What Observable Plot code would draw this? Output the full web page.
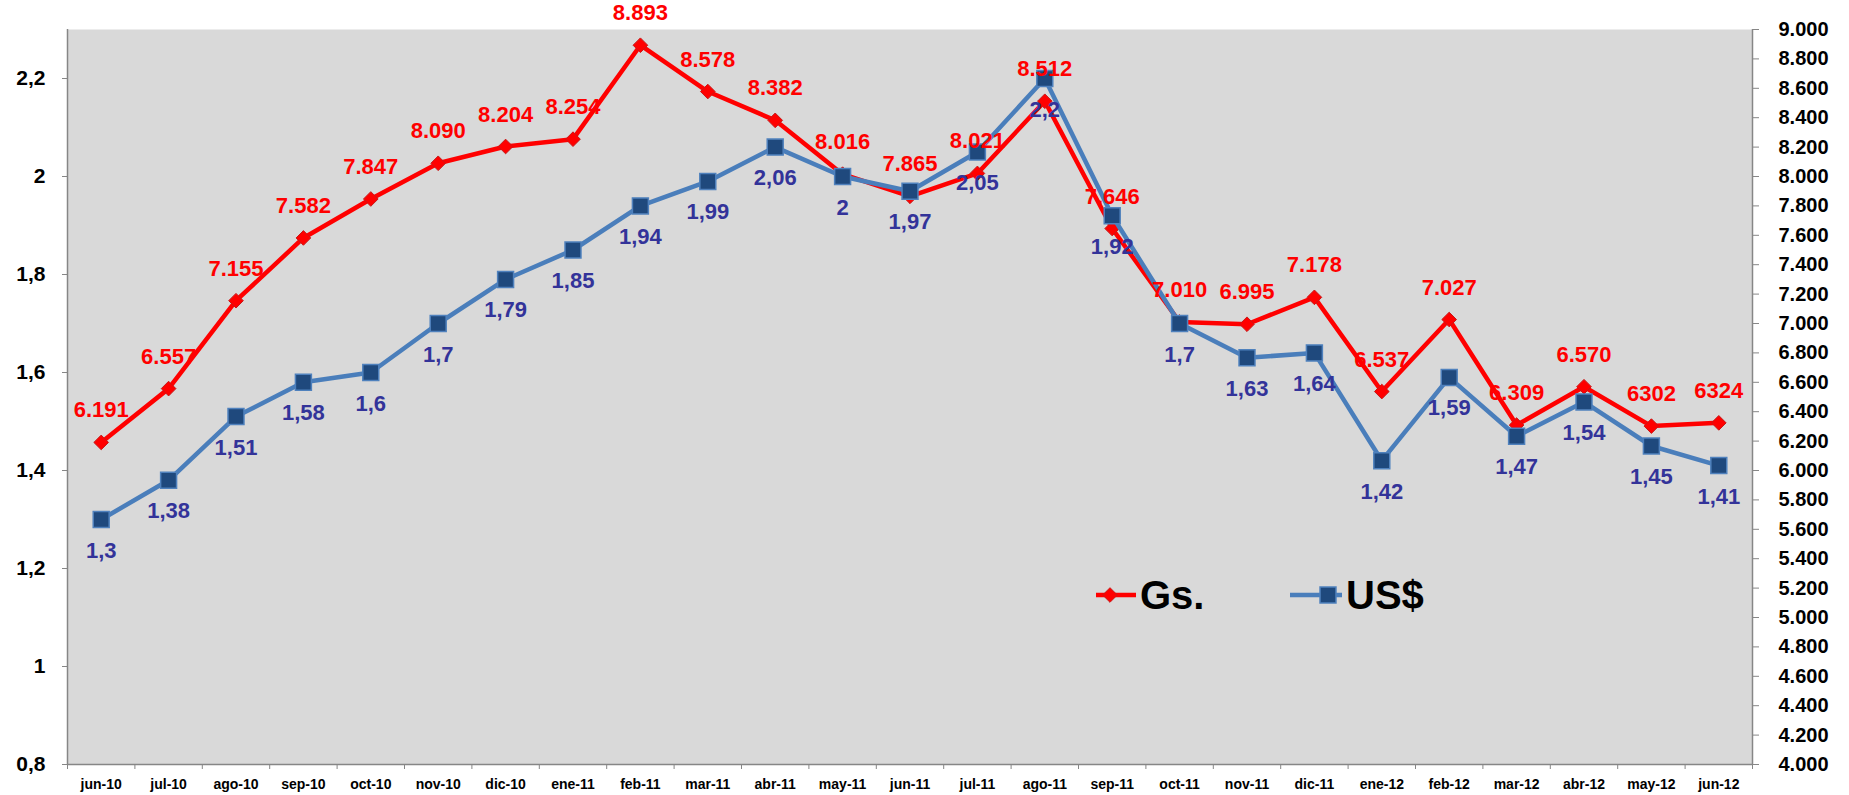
<!DOCTYPE html>
<html>
<head>
<meta charset="utf-8">
<script src="https://cdn.jsdelivr.net/npm/d3@7"></script>
<script src="https://cdn.jsdelivr.net/npm/@observablehq/plot@0.6"></script>
<style>
  html, body { margin: 0; padding: 0; background: #ffffff; }
  #chart svg { display: block; }
</style>
</head>
<body>
<div id="chart"></div>
<script>
// ---- data ----
const months = ["jun-10","jul-10","ago-10","sep-10","oct-10","nov-10","dic-10","ene-11","feb-11","mar-11","abr-11","may-11","jun-11","jul-11","ago-11","sep-11","oct-11","nov-11","dic-11","ene-12","feb-12","mar-12","abr-12","may-12","jun-12"];
const gsValues = [6191,6557,7155,7582,7847,8090,8204,8254,8893,8578,8382,8016,7865,8021,8512,7646,7010,6995,7178,6537,7027,6309,6570,6302,6324];
const gsLabels = ["6.191","6.557","7.155","7.582","7.847","8.090","8.204","8.254","8.893","8.578","8.382","8.016","7.865","8.021","8.512","7.646","7.010","6.995","7.178","6.537","7.027","6.309","6.570","6302","6324"];
const usdValues = [1.3,1.38,1.51,1.58,1.6,1.7,1.79,1.85,1.94,1.99,2.06,2,1.97,2.05,2.2,1.92,1.7,1.63,1.64,1.42,1.59,1.47,1.54,1.45,1.41];
const leftTicks = [0.8,1,1.2,1.4,1.6,1.8,2,2.2];
const rightTicks = d3.range(4000, 9001, 200);
const leftDomain = [0.8, 2.3];
const rightDomain = [4000, 9000];

// map right-axis (Gs.) values onto the left (US$) scale
const toLeft = g => leftDomain[0] + (g - rightDomain[0]) / (rightDomain[1] - rightDomain[0]) * (leftDomain[1] - leftDomain[0]);
const fromLeft = v => rightDomain[0] + (v - leftDomain[0]) / (leftDomain[1] - leftDomain[0]) * (rightDomain[1] - rightDomain[0]);

const data = months.map((m, i) => ({
  i, m,
  usd: usdValues[i],
  usdLabel: String(usdValues[i]).replace(".", ","),
  gsY: toLeft(gsValues[i]),
  gsLabel: gsLabels[i]
}));

const FONT = "'Liberation Sans', Arial, Helvetica, sans-serif";
const AXIS = "#868686";

const fmtLeft = d => String(+(+d).toFixed(1)).replace(".", ",");
const fmtRight = v => d3.format(",")(Math.round(fromLeft(v) / 10) * 10).replace(/,/g, ".");

const chart = Plot.plot({
  width: 1849,
  height: 795,
  marginLeft: 67,
  marginRight: 97,
  marginTop: 29,
  marginBottom: 31,
  style: { background: "#ffffff", fontFamily: FONT, overflow: "visible" },
  x: { type: "linear", domain: [-0.5, months.length - 0.5], label: null },
  y: { domain: leftDomain, label: null },
  marks: [
    Plot.frame({ fill: "#d9d9d9", stroke: null }),
    // axis lines
    Plot.ruleX([-0.5], { stroke: AXIS, strokeWidth: 1.5 }),
    Plot.ruleX([months.length - 0.5], { stroke: AXIS, strokeWidth: 1.5 }),
    Plot.ruleY([leftDomain[0]], { stroke: AXIS, strokeWidth: 1.5 }),
    // left axis
    Plot.axisY(leftTicks, {
      anchor: "left", label: null, tickSize: 5, tickPadding: 17, tickFormat: fmtLeft,
      stroke: AXIS, fill: "#000", fontSize: 21, fontWeight: "bold", fontFamily: FONT
    }),
    // right axis (Gs.)
    Plot.axisY(rightTicks.map(toLeft), {
      anchor: "right", label: null, tickSize: 6, tickPadding: 20, tickFormat: fmtRight,
      stroke: AXIS, fill: "#000", fontSize: 20, fontWeight: "bold", fontFamily: FONT
    }),
    // x tick marks at category boundaries
    Plot.axisX(d3.range(-0.5, months.length, 1), {
      anchor: "bottom", label: null, tickSize: 5, tickFormat: () => "", stroke: AXIS
    }),
    // x labels
    Plot.axisX(d3.range(months.length), {
      anchor: "bottom", label: null, tickSize: 0, tickPadding: 15, tickFormat: i => months[i],
      fill: "#000", fontSize: 14, fontWeight: "bold", fontFamily: FONT
    }),
    // Gs. series
    Plot.line(data, { x: "i", y: "gsY", stroke: "#ff0000", strokeWidth: 4.5 }),
    Plot.dot(data, { x: "i", y: "gsY", symbol: "diamond2", r: 6.6, fill: "#ff0000", stroke: "#c81818", strokeWidth: 1 }),
    // US$ series
    Plot.line(data, { x: "i", y: "usd", stroke: "#4a7ebb", strokeWidth: 4.5 }),
    Plot.dot(data, { x: "i", y: "usd", symbol: "square", r: 9, fill: "#1f497d", stroke: "#4f81bd", strokeWidth: 1.5 }),
    // labels
    Plot.text(data, { x: "i", y: "gsY", text: "gsLabel", dy: -32, fill: "#ff0000", fontSize: 22, fontWeight: "bold", fontFamily: FONT }),
    Plot.text(data, { x: "i", y: "usd", text: "usdLabel", dy: 31, fill: "#333399", fontSize: 22, fontWeight: "bold", fontFamily: FONT })
  ]
});

document.getElementById("chart").appendChild(chart);

// ---- legend (inside plot area) ----
const svg = d3.select(chart);
const lg = svg.append("g")
  .attr("font-family", FONT).attr("font-weight", "bold").attr("font-size", 40)
  .attr("text-anchor", "start");
const ly = 595;
lg.append("line").attr("x1", 1096).attr("x2", 1136).attr("y1", ly).attr("y2", ly).attr("stroke", "#ff0000").attr("stroke-width", 4.5);
lg.append("path").attr("d", d3.symbol(d3.symbolDiamond2, Math.PI * 6.6 * 6.6)()).attr("transform", `translate(1110,${ly})`).attr("fill", "#ff0000").attr("stroke", "#c81818");
lg.append("text").attr("x", 1140).attr("y", ly).attr("dy", "0.36em").attr("fill", "#000").attr("text-anchor", "start").text("Gs.");
lg.append("line").attr("x1", 1290).attr("x2", 1342).attr("y1", ly).attr("y2", ly).attr("stroke", "#4a7ebb").attr("stroke-width", 4.5);
lg.append("path").attr("d", d3.symbol(d3.symbolSquare, Math.PI * 81)()).attr("transform", `translate(1328,${ly})`).attr("fill", "#1f497d").attr("stroke", "#4f81bd").attr("stroke-width", 1.5);
lg.append("text").attr("x", 1346).attr("y", ly).attr("dy", "0.36em").attr("fill", "#000").attr("text-anchor", "start").text("US$");
</script>
</body>
</html>
